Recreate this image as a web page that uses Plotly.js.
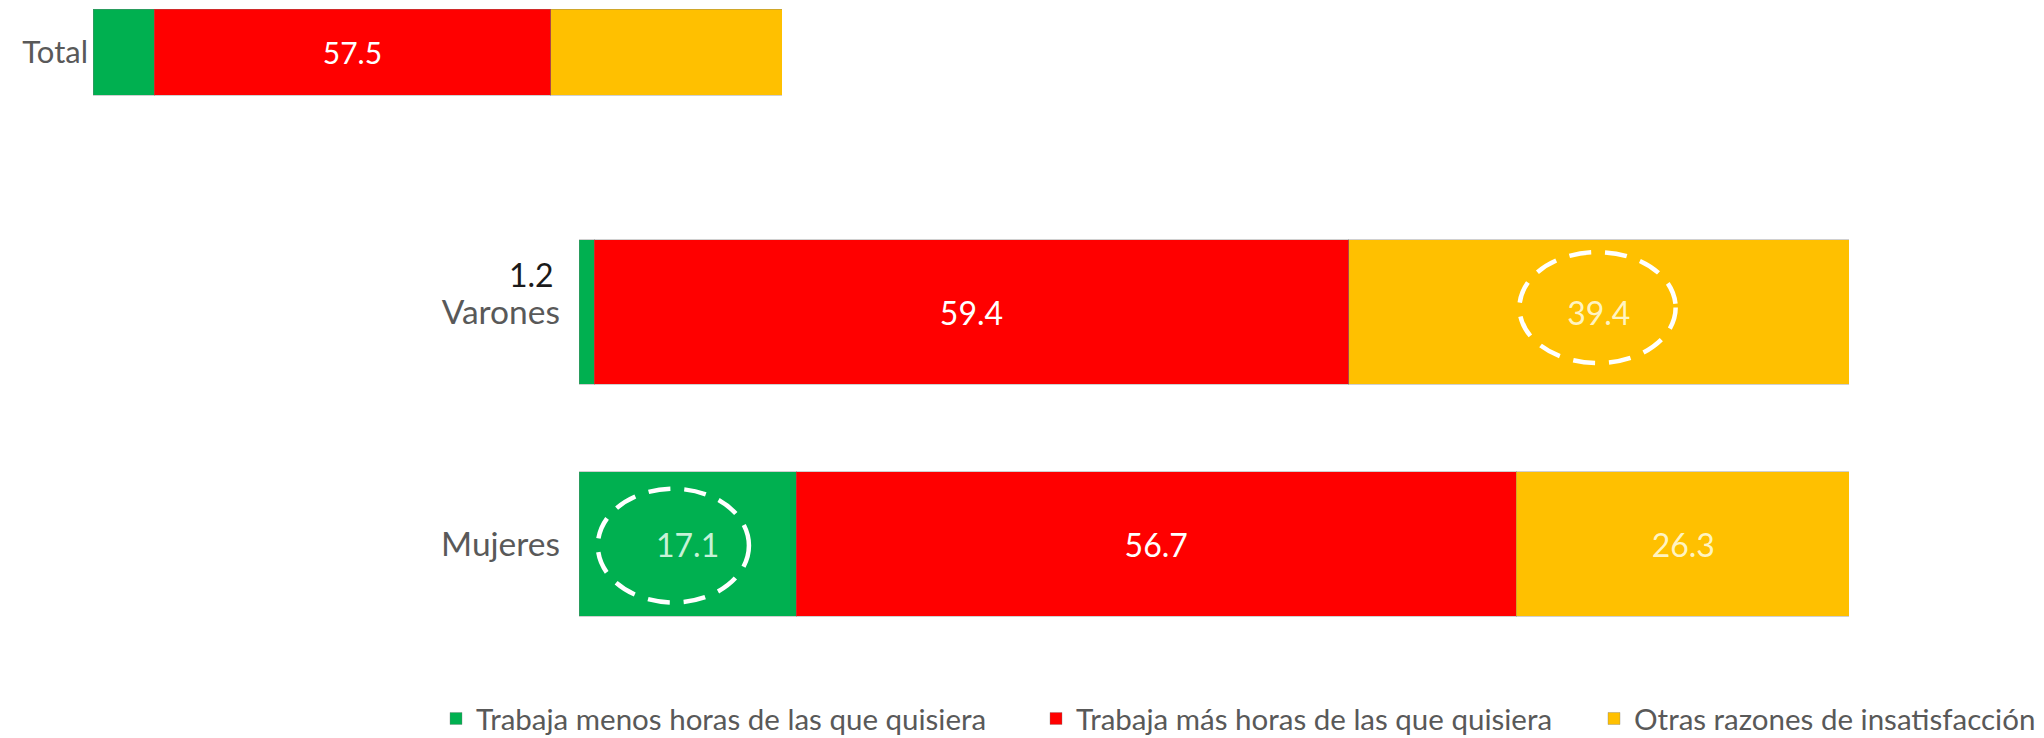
<!DOCTYPE html>
<html>
<head>
<meta charset="utf-8">
<script src="https://cdn.plot.ly/plotly-3.0.1.min.js"></script>
<style>html,body{margin:0;padding:0;background:#fff;}#chart{width:2044px;height:738px;}</style>
</head>
<body>
<div id="chart"></div>
<script>
// ---- data ----
const seriesNames = ["Trabaja menos horas de las que quisiera", "Trabaja más horas de las que quisiera", "Otras razones de insatisfacción"];
const totalCategory = ["Total"];
const totalMenos = [8.9];
const totalMas = [57.5];
const totalOtras = [33.6];

const categories = ["Mujeres", "Varones"];   // bottom to top
const menos = [17.1, 1.2];
const mas = [56.7, 59.4];
const otras = [26.3, 39.4];

// which values are printed inside the bars
const showMenos = [true, false];
const showMas = [true, true];
const showOtras = [true, true];
const showTotalMas = [true];

const colors = ["#00B050", "#FF0000", "#FFC000"];
const fontFam = "Lato, 'Open Sans', sans-serif";

function labels(vals, show) { return vals.map((v, i) => show[i] ? v.toFixed(1) : ""); }

const lineStyle = {width: 1, color: "rgba(120,120,120,0.35)"};
const totFont = {family: fontFam, size: 30, color: "#ffffff"};
const txtFont = {family: fontFam, size: 32, color: "#ffffff"};

const traces = [
  // Total chart (top-left)
  {type: "bar", orientation: "h", y: totalCategory, x: totalMenos, xaxis: "x2", yaxis: "y2",
   marker: {color: colors[0], line: lineStyle}, showlegend: false, text: [""], textposition: "none"},
  {type: "bar", orientation: "h", y: totalCategory, x: totalMas, xaxis: "x2", yaxis: "y2",
   marker: {color: colors[1], line: lineStyle}, showlegend: false, text: labels(totalMas, showTotalMas),
   textposition: "inside", insidetextanchor: "middle", textangle: 0, insidetextfont: totFont},
  {type: "bar", orientation: "h", y: totalCategory, x: totalOtras, xaxis: "x2", yaxis: "y2",
   marker: {color: colors[2], line: lineStyle}, showlegend: false, text: [""], textposition: "none"},
  // Main chart
  {type: "bar", orientation: "h", name: seriesNames[0], y: categories, x: menos, legend: "legend",
   marker: {color: colors[0], line: lineStyle}, text: labels(menos, showMenos),
   textposition: "inside", insidetextanchor: "middle", textangle: 0,
   insidetextfont: {family: fontFam, size: 32, color: "rgba(235,255,240,0.85)"}},
  {type: "bar", orientation: "h", name: seriesNames[1], y: categories, x: mas, legend: "legend2",
   marker: {color: colors[1], line: lineStyle}, text: labels(mas, showMas),
   textposition: "inside", insidetextanchor: "middle", textangle: 0, insidetextfont: txtFont},
  {type: "bar", orientation: "h", name: seriesNames[2], y: categories, x: otras, legend: "legend3",
   marker: {color: colors[2], line: lineStyle}, text: labels(otras, showOtras),
   textposition: "inside", insidetextanchor: "middle", textangle: 0,
   insidetextfont: {family: fontFam, size: 32, color: "rgba(255,250,215,0.92)"}}
];

// dashed ellipses around highlighted labels (centred near the segment midpoints)
const varIdx = categories.indexOf("Varones");
const mujIdx = categories.indexOf("Mujeres");
const cVar = menos[varIdx] + mas[varIdx] + otras[varIdx] / 2 - 0.1;
const cMuj = menos[mujIdx] / 2 - 1.12;
const ellipseLine = {color: "#ffffff", width: 4.5, dash: "22px,14px"};

const legFont = {family: fontFam, size: 29.5, color: "#595959"};
function leg(xpx) {
  return {orientation: "h", x: xpx / 2044, y: 0.026, xanchor: "left", yanchor: "middle",
          font: legFont, itemwidth: 30, bgcolor: "rgba(0,0,0,0)"};
}

const layout = {
  width: 2044, height: 738,
  margin: {l: 0, r: 0, t: 0, b: 0, autoexpand: false},
  paper_bgcolor: "#ffffff", plot_bgcolor: "#ffffff",
  barmode: "stack", bargap: 0.379,
  font: {family: fontFam, color: "#595959"},
  xaxis: {domain: [579/2044, 1849/2044], range: [0, 100], visible: false, fixedrange: true},
  yaxis: {domain: [1 - 660/738, 1 - 196/738], range: [-0.5, 1.5], type: "category", categoryarray: categories,
          showgrid: false, zeroline: false, showline: false, ticks: "", ticklabelstandoff: 18,
          tickfont: {family: fontFam, size: 33.5, color: "#595959"}},
  xaxis2: {domain: [93/2044, 782/2044], range: [0, 100], visible: false, anchor: "y2", fixedrange: true},
  yaxis2: {domain: [1 - 104/738, 1], range: [-0.3755, 0.3755], type: "category", anchor: "x2",
           showgrid: false, zeroline: false, showline: false, ticks: "", ticklabelstandoff: 4,
           tickfont: {family: fontFam, size: 31, color: "#595959"}},
  showlegend: true,
  legend: leg(436),
  legend2: leg(1036),
  legend3: leg(1594),
  annotations: [
    {xref: "x", yref: "y", x: 0, y: "Varones", text: menos[varIdx].toFixed(1), showarrow: false,
     xanchor: "right", yanchor: "middle", xshift: -23, yshift: 38,
     font: {family: fontFam, size: 32, color: "#1a1a1a"}}
  ],
  shapes: [
    {type: "circle", xref: "x", yref: "y", x0: cVar - 6.15, x1: cVar + 6.15,
     y0: varIdx - 0.22, y1: varIdx + 0.258, line: ellipseLine},
    {type: "circle", xref: "x", yref: "y", x0: cMuj - 5.95, x1: cMuj + 5.95,
     y0: mujIdx - 0.252, y1: mujIdx + 0.238, line: ellipseLine}
  ]
};

Plotly.newPlot("chart", traces, layout, {displayModeBar: false, staticPlot: true});
</script>
</body>
</html>
